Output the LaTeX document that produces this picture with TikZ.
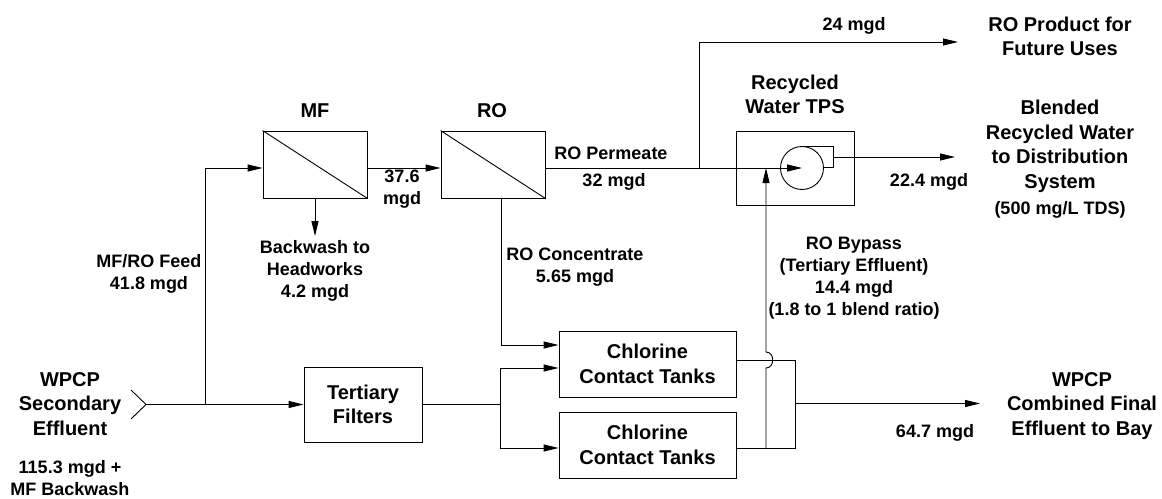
\documentclass[tikz,border=0pt]{standalone}
\usepackage{fontspec}
\setmainfont{Liberation Sans}
\usetikzlibrary{arrows.meta}
\newcommand\tfont{\fontsize{20}{24.5}\selectfont\bfseries}
\newcommand\lfont{\fontsize{18}{22}\selectfont\bfseries}
\begin{document}
\begin{tikzpicture}[x=1pt,y=-1pt,line width=0.9pt,
  >={Triangle[length=15pt,width=7pt]},
  box/.style={draw,rectangle,inner sep=0pt,align=center,font=\tfont},
  ttl/.style={inner sep=0pt,align=center,font=\tfont},
  lbl/.style={inner sep=0pt,align=center,font=\lfont}]
\useasboundingbox (0,0) rectangle (1162,498);

% process boxes
\node[box,minimum width=104pt,minimum height=67pt] (mf) at (315,164.5) {};
\node[box,minimum width=104pt,minimum height=67pt] (ro) at (493,164.5) {};
\draw (mf.north west) -- (mf.south east);
\draw (ro.north west) -- (ro.south east);
\node[box,minimum width=118pt,minimum height=74pt] (tps) at (795,168) {};
\node[draw,circle,minimum size=43pt,inner sep=0pt] (pump) at (802,168) {};
\node[box,minimum width=118pt,minimum height=75pt] (tf) at (363,404.5) {Tertiary\\Filters};
\node[box,minimum width=177pt,minimum height=66pt] (ct1) at (647.5,364) {Chlorine\\Contact Tanks};
\node[box,minimum width=177pt,minimum height=66pt] (ct2) at (647.5,445) {Chlorine\\Contact Tanks};

% pump nozzle
\coordinate (noz) at (833,157);
\draw (pump.north) -| (833,167) -- (823.6,167);

% coordinates
\coordinate (src) at (146,404.5);
\coordinate (j1) at (205,404.5);
\coordinate (bw) at (315,236);
\coordinate (br) at (699,168);
\coordinate (fut) at (958,42);
\coordinate (dist) at (955,157);
\coordinate (sp) at (500,404.5);
\coordinate (c1) at (795,360);
\coordinate (c2) at (795,448);
\coordinate (c3) at (795,403.5);
\coordinate (bay) at (980,403.5);
\coordinate (bp) at (766,448);
\coordinate (hb) at (766,368);
\coordinate (ht) at (766,352);
\coordinate (bpin) at (766,168);

% inlet chevron
\draw (131,390) -- (src) -- (131,419);

% connectors
\draw[->] (src) -- (tf.west);
\draw[->] (j1) |- ([yshift=-3.5pt]mf.west);
\draw[->] ([yshift=-3.5pt]mf.east) -- ([yshift=-3.5pt]ro.west);
\draw[->] (mf.south) -- (bw);
\draw[->] ([yshift=-3.5pt]ro.east) -- (pump.center);
\draw[->] (br) |- (fut);
\draw[->] (noz) -- (dist);
\draw[->] ([xshift=8pt]ro.south) |- ([yshift=19pt]ct1.west);
\draw (tf.east) -- (sp);
\draw[->] (sp) |- ([yshift=-4pt]ct1.west);
\draw[->] (sp) |- ([yshift=-3pt]ct2.west);
\draw ([yshift=4pt]ct1.east) -- (c1) -- (c2) -- ([yshift=-3pt]ct2.east);
\draw[->] (c3) -- (bay);
\draw[->] (bp) -- (hb) .. controls (775,368) and (775,352) .. (ht) -- (bpin);

% labels
\node[ttl] (src-t) at (70,404) {WPCP\\Secondary\\Effluent};
\node[lbl] (src-q) at (70,478.5) {115.3 mgd +\\MF Backwash};
\node[ttl] (mf-t) at (315,111) {MF};
\node[ttl] (ro-t) at (492,111) {RO};
\node[lbl] (feed-t) at (149,274) {MF/RO Feed\\41.8 mgd};
\node[lbl] (bw-t) at (315,270.5) {Backwash to\\Headworks\\4.2 mgd};
\node[lbl] (mfro-t) at (402,189) {37.6\\mgd};
\node[lbl] (perm-t) at (611,153) {RO Permeate};
\node[lbl] (perm-q) at (614,182) {32 mgd};
\node[lbl] (conc-t) at (575,267.5) {RO Concentrate\\5.65 mgd};
\node[lbl] (fut-q) at (854,26) {24 mgd};
\node[ttl] (tps-t) at (795,94.5) {Recycled\\Water TPS};
\node[ttl] (fut-t) at (1060,36.5) {RO Product for\\Future Uses};
\node[ttl] (dist-t) at (1060,146.5) {Blended\\Recycled Water\\to Distribution\\System};
\node[lbl] (dist-s) at (1060,210) {(500 mg/L TDS)};
\node[lbl] (dist-q) at (929,182) {22.4 mgd};
\node[lbl] (bp-t) at (854,278.5) {RO Bypass\\(Tertiary Effluent)\\14.4 mgd\\(1.8 to 1 blend ratio)};
\node[lbl] (bay-q) at (935,433) {64.7 mgd};
\node[ttl] (bay-t) at (1082,406) {WPCP\\Combined Final\\Effluent to Bay};
\end{tikzpicture}
\end{document}
